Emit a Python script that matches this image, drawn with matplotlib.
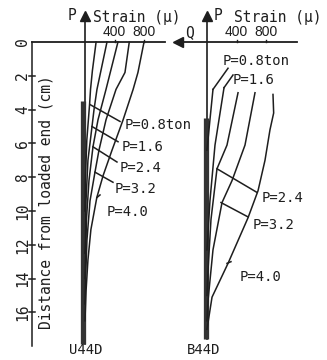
import matplotlib
matplotlib.use("Agg")
import matplotlib.pyplot as plt

# ---------------- data ----------------
loads = ["P=0.8ton", "P=1.6", "P=2.4", "P=3.2", "P=4.0"]

# U44D (left) strain distributions: depth (cm) and strain (micro)
u_depth = [
    [0, 1.7, 2.8, 3.7, 5.8, 8.2, 10.0],
    [0, 2.8, 4.0, 5.0, 7.0, 9.4, 11.7, 12.5],
    [0, 2.8, 4.6, 6.2, 8.2, 10.5, 12.9, 14.0],
    [0, 1.8, 2.8, 4.6, 6.4, 7.7, 9.4, 11.7, 14.1, 15.5],
    [0, 1.8, 2.8, 4.6, 6.4, 7.9, 9.2, 11.1, 12.9, 14.7, 16.5],
]
u_strain = [
    [150, 100, 75, 62, 25, 5, 0],
    [297, 162, 122, 95, 40, 14, 7, 0],
    [445, 284, 176, 108, 54, 20, 7, 0],
    [598, 540, 419, 284, 189, 135, 68, 27, 7, 0],
    [797, 715, 650, 515, 365, 245, 160, 80, 40, 15, 0],
]

# B44D (right) strain distributions
b_depth = [
    [2.8, 4.6, 6.4],
    [2.7, 6.1, 9.4, 12.3],
    [3.0, 6.1, 7.5, 10.5, 13.5, 15.0],
    [3.0, 6.1, 8.2, 9.5, 12.3, 15.3, 16.5],
    [3.1, 4.2, 5.2, 7.0, 8.8, 10.4, 13.1, 15.1, 17.0],
]
b_strain = [
    [81, 40, 0],
    [230, 108, 40, 0],
    [419, 270, 135, 54, 14, 0],
    [648, 513, 338, 203, 81, 14, 0],
    [891, 900, 850, 783, 689, 554, 284, 68, 0],
]

# label leaders: (start strain, start depth, end strain, end depth), label (strain, depth)
u_leaders = [(68, 3.7, 473, 4.7), (95, 5.0, 446, 5.9), (108, 6.2, 432, 7.1),
             (135, 7.7, 378, 8.3), (162, 9.2, 203, 9.05)]
u_labels = [(540, 4.9), (500, 6.2), (472, 7.45), (405, 8.7), (297, 10.05)]
b_leaders = [(81, 2.8, 284, 1.55), (230, 2.7, 351, 1.95), (135, 7.5, 675, 8.9),
             (189, 9.5, 554, 10.35), (270, 13.1, 324, 13.0)]
b_labels = [(216, 1.1), (351, 2.25), (743, 9.25), (621, 10.85), (446, 13.9)]

strain_ticks = [400, 800]
depth_ticks = [0, 2, 4, 6, 8, 10, 12, 14, 16]

# ---------------- drawing ----------------
INK = "#1e1e1e"
MONO = "DejaVu Sans Mono"
SANS = "Liberation Sans"

fig = plt.figure(figsize=(3.27, 3.6), dpi=100)
fig.patch.set_facecolor("white")

def make_ax(xmin, xmax):
    ax = fig.add_axes([0, 0, 1, 1])
    ax.set_xlim(xmin, xmax)
    ax.set_ylim(18.82, -2.49)
    ax.patch.set_alpha(0)
    ax.axis("off")
    return ax

axL = make_ax(-1147, 3267)
axR = make_ax(-2794, 1620)

def curves(ax, depths, strains):
    for d, s in zip(depths, strains):
        ax.plot(s, d, color=INK, lw=1.1, solid_joinstyle="round")

def leaders(ax, lead, labels, names):
    for (x0, y0, x1, y1), (lx, ly), name in zip(lead, labels, names):
        ax.plot([x0, x1], [y0, y1], color=INK, lw=1.1)
        ax.text(lx, ly, name, family=MONO, fontsize=10, color=INK,
                ha="left", va="center")

# ---- left panel (U44D) ----
axL.plot([0, 0], [-1.3, 17.9], color=INK, lw=1.2)
axL.plot([0], [-1.55], marker="^", ms=7, color=INK)
axL.plot([-20, -20], [3.5, 17.9], color="#333333", lw=3.8, solid_capstyle="butt")
axL.plot([-716, 1080], [0, 0], color=INK, lw=1.3)
axL.plot([-716, -716], [0, 18.0], color=INK, lw=1.1)
for t in depth_ticks[1:]:
    axL.plot([-760, -672], [t, t], color=INK, lw=1.1)
    axL.text(-845, t, str(t), family=MONO, fontsize=10.5, rotation=90,
             ha="center", va="center", color=INK)
axL.text(-845, 0, "0", family=MONO, fontsize=10.5, rotation=90,
         ha="center", va="center", color=INK)
axL.text(-520, 9.5, "Distance from loaded end (cm)", family=MONO, fontsize=10.5,
         rotation=90, ha="center", va="center", color=INK)
for t in strain_ticks:
    axL.plot([t, t], [0, -0.15], color=INK, lw=1)
    axL.text(t, -0.6, str(t), family=SANS, fontsize=10, ha="center",
             va="center", color=INK)
axL.text(-175, -1.55, "P", family=MONO, fontsize=10.5, ha="center",
         va="center", color=INK)
axL.text(105, -1.45, "Strain (\u03bc)", family=MONO, fontsize=10.5,
         ha="left", va="center", color=INK)
axL.text(15, 18.25, "U44D", family=MONO, fontsize=10, ha="center",
         va="center", color=INK)
curves(axL, u_depth, u_strain)
leaders(axL, u_leaders, u_labels, loads)

# ---- right panel (B44D) ----
axR.plot([0, 0], [-1.3, 17.6], color=INK, lw=1.2)
axR.plot([0], [-1.55], marker="^", ms=7, color=INK)
axR.plot([-20, -20], [4.5, 17.6], color="#333333", lw=3.8, solid_capstyle="butt")
axR.plot([-380, 1215], [0, 0], color=INK, lw=1.3)
axR.plot([-395], [0], marker="<", ms=7, color=INK)
for t in strain_ticks:
    axR.plot([t, t], [0, -0.15], color=INK, lw=1)
    axR.text(t, -0.6, str(t), family=SANS, fontsize=10, ha="center",
             va="center", color=INK)
axR.text(150, -1.6, "P", family=MONO, fontsize=10.5, ha="center",
         va="center", color=INK)
axR.text(-230, -0.55, "Q", family=MONO, fontsize=10.5, ha="center",
         va="center", color=INK)
axR.text(370, -1.45, "Strain (\u03bc)", family=MONO, fontsize=10.5,
         ha="left", va="center", color=INK)
axR.text(-50, 18.25, "B44D", family=MONO, fontsize=10, ha="center",
         va="center", color=INK)
curves(axR, b_depth, b_strain)
leaders(axR, b_leaders, b_labels, loads)

fig.savefig("out.png", dpi=100, facecolor="white")
